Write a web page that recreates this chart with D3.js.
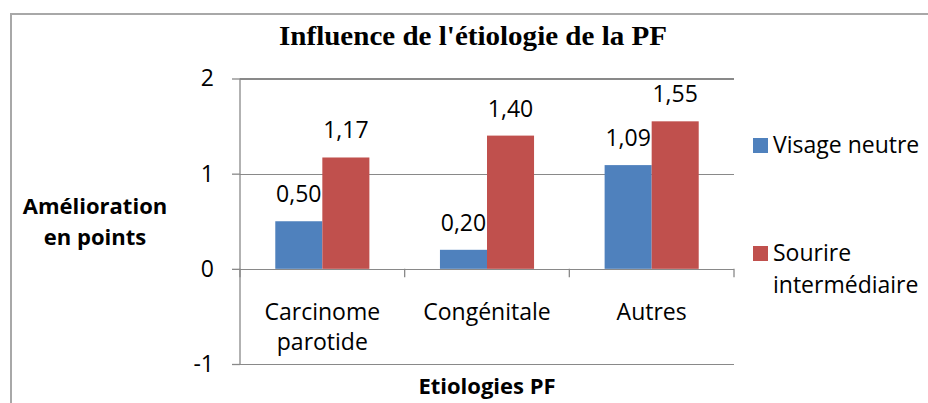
<!DOCTYPE html>
<html>
<head>
<meta charset="utf-8">
<script src="https://cdn.jsdelivr.net/npm/d3@7"></script>
<style>
  html, body { margin: 0; padding: 0; background: #fff; }
  svg { display: block; }
</style>
</head>
<body>
<svg id="chart" width="928" height="403"></svg>
<script>
// ---- data ----
const categories = ["Carcinome parotide", "Congénitale", "Autres"];
const categoryLines = [["Carcinome", "parotide"], ["Congénitale"], ["Autres"]];
const seriesNames = ["Visage neutre", "Sourire intermédiaire"];
const seriesLegendLines = [["Visage neutre"], ["Sourire", "intermédiaire"]];
const visageNeutre = [0.50, 0.20, 1.09];
const sourireIntermediaire = [1.17, 1.40, 1.55];
const yTickValues = [-1, 0, 1, 2];
const yTickLabels = ["-1", "0", "1", "2"];
const titleText = "Influence de l'étiologie de la PF";
const yTitleLines = ["Amélioration", "en points"];
const xTitleText = "Etiologies PF";

// ---- layout ----
const colors = ["#4F81BD", "#C0504D"];
const gridColor = "#898989";
const font = "'Open Sans', 'Noto Sans', sans-serif";
const plot = { left: 240, right: 734, top: 78.5, bottom: 364 };

const svg = d3.select("#chart");

// outer border
svg.append("rect")
  .attr("x", 11).attr("y", 14).attr("width", 1000).attr("height", 1000)
  .attr("fill", "none").attr("stroke", "#a8a8a8").attr("stroke-width", 2);

const y = d3.scaleLinear().domain([-1, 2]).range([plot.bottom, plot.top]);
const x0 = d3.scaleBand().domain(categories).range([plot.left, plot.right]).padding(0);
const groupW = x0.step() * (2 / 3.5);
const x1 = d3.scaleBand().domain(seriesNames)
  .range([(x0.bandwidth() - groupW) / 2, (x0.bandwidth() + groupW) / 2]).padding(0);

// gridlines (via axis)
const gridAxis = d3.axisLeft(y).tickValues(yTickValues).tickSize(-(plot.right - plot.left)).tickFormat("");
const gg = svg.append("g").attr("transform", `translate(${plot.left},0)`).call(gridAxis);
gg.select(".domain").remove();
gg.selectAll("line").attr("stroke", gridColor).attr("stroke-width", 1.3).attr("shape-rendering", "crispEdges");

const yAxis = d3.axisLeft(y).tickValues(yTickValues).tickSize(8).tickPadding(18)
  .tickFormat((d, i) => yTickLabels[i]);
const ya = svg.append("g").attr("transform", `translate(${plot.left},0)`).call(yAxis);
ya.select(".domain").attr("stroke", gridColor).attr("stroke-width", 1.3).attr("d", `M0,${plot.top}V${plot.bottom}`);
ya.selectAll("line").attr("stroke", gridColor).attr("stroke-width", 1.3);
ya.selectAll("text").attr("font-family", font).attr("font-size", 23).attr("fill", "#000");

// bars
const data = categories.map((c, i) => ({ cat: c, vals: [visageNeutre[i], sourireIntermediaire[i]] }));
const groups = svg.append("g").selectAll("g").data(data).join("g")
  .attr("transform", d => `translate(${x0(d.cat)},0)`);
groups.selectAll("rect").data(d => d.vals.map((v, k) => ({ v, k })))
  .join("rect")
  .attr("x", d => x1(seriesNames[d.k]))
  .attr("width", x1.bandwidth())
  .attr("y", d => y(Math.max(0, d.v)))
  .attr("height", d => Math.abs(y(d.v) - y(0)))
  .attr("fill", d => colors[d.k]);
groups.selectAll("text.lbl").data(d => d.vals.map((v, k) => ({ v, k })))
  .join("text").attr("class", "lbl")
  .attr("x", d => x1(seriesNames[d.k]) + x1.bandwidth() / 2)
  .attr("y", d => y(d.v) - 19)
  .attr("text-anchor", "middle")
  .attr("font-family", font).attr("font-size", 23).attr("fill", "#000")
  .text(d => d3.format(".2f")(d.v).replace(".", ","));

// category axis on zero line with boundary ticks
const zeroY = y(0);
const bounds = categories.map(c => x0(c)).concat([plot.right]);
svg.append("g").selectAll("line").data(bounds).join("line")
  .attr("x1", d => d).attr("x2", d => d)
  .attr("y1", zeroY).attr("y2", zeroY + 8.5)
  .attr("stroke", gridColor).attr("stroke-width", 1.3);

// category labels
const cl = svg.append("g").selectAll("text").data(categories).join("text")
  .attr("x", d => x0(d) + x0.bandwidth() / 2)
  .attr("y", 320)
  .attr("text-anchor", "middle")
  .attr("font-family", font).attr("font-size", 23).attr("fill", "#000");
cl.each(function (d, i) {
  const t = d3.select(this);
  categoryLines[i].forEach((ln, j) => {
    t.append("tspan").attr("x", x0(d) + x0.bandwidth() / 2).attr("dy", j === 0 ? 0 : 30).text(ln);
  });
});

// title
svg.append("text")
  .attr("x", 473).attr("y", 45)
  .attr("text-anchor", "middle")
  .attr("font-family", "'Liberation Serif', 'Times New Roman', serif")
  .attr("font-weight", "bold").attr("font-size", 28)
  .attr("textLength", 388).attr("lengthAdjust", "spacingAndGlyphs")
  .attr("fill", "#000")
  .text(titleText);

// y title
const yt = svg.append("text")
  .attr("text-anchor", "middle")
  .attr("font-family", font).attr("font-weight", "bold").attr("font-size", 22).attr("fill", "#000");
yTitleLines.forEach((ln, j) => {
  yt.append("tspan").attr("x", 95).attr("y", 214 + j * 31).text(ln);
});

// x title
svg.append("text")
  .attr("x", (plot.left + plot.right) / 2).attr("y", 394)
  .attr("text-anchor", "middle")
  .attr("font-family", font).attr("font-weight", "bold").attr("font-size", 22).attr("fill", "#000")
  .text(xTitleText);

// legend
const legendY = [138, 246];
const lg = svg.append("g").selectAll("g").data(seriesNames).join("g");
lg.append("rect")
  .attr("x", 753).attr("y", (d, i) => legendY[i])
  .attr("width", 15).attr("height", 15)
  .attr("fill", (d, i) => colors[i]);
lg.append("text")
  .attr("font-family", font).attr("font-size", 23).attr("fill", "#000")
  .each(function (d, i) {
    const t = d3.select(this);
    seriesLegendLines[i].forEach((ln, j) => {
      t.append("tspan").attr("x", 773).attr("y", legendY[i] + 15 + j * 32).text(ln);
    });
  });
</script>
</body>
</html>
